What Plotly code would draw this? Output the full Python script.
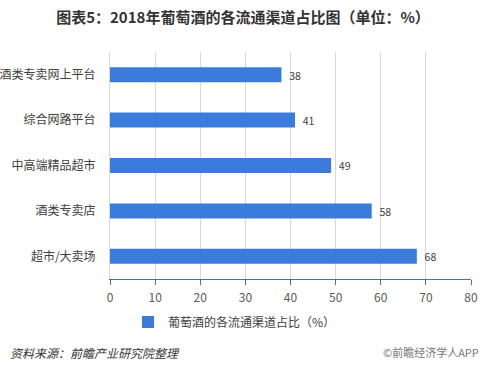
import plotly.graph_objects as go

categories = ["酒类专卖网上平台", "综合网路平台", "中高端精品超市", "酒类专卖店", "超市/大卖场"]
values = [38, 41, 49, 58, 68]
series_name = "葡萄酒的各流通渠道占比（%）"
x_ticks = [0, 10, 20, 30, 40, 50, 60, 70, 80]

FONT = "Microsoft YaHei, Noto Sans CJK SC, sans-serif"
W, H = 489, 371
L, R, T, B = 110, 18, 52, 92
PW, PH = W - L - R, H - T - B

fig = go.Figure()
fig.add_trace(go.Bar(
    y=categories, x=values, orientation="h", name=series_name,
    marker=dict(color="#3A7BDB", line=dict(width=0)),
    width=0.33,
    texttemplate="  %{x}", textposition="outside",
    textfont=dict(size=12, color="#404040", family=FONT),
    cliponaxis=False, showlegend=True,
))

fig.update_layout(
    width=W, height=H,
    margin=dict(l=L, r=R, t=T, b=B, autoexpand=False),
    paper_bgcolor="white", plot_bgcolor="white",
    font=dict(family=FONT, size=12, color="#595959"),
    title=dict(text="<b>图表5：2018年葡萄酒的各流通渠道占比图（单位：%）</b>",
               x=243 / W, xanchor="center", xref="container",
               y=1 - 18 / H, yanchor="middle",
               font=dict(size=15, color="#333333", family=FONT)),
    xaxis=dict(range=[0, 80], tickvals=x_ticks, showgrid=True, gridcolor="#D9D9D9",
               gridwidth=1, zeroline=False, showline=True, linecolor="#4A6FB0",
               linewidth=1, ticks="outside", ticklen=5, tickcolor="#4A6FB0",
               ticklabelstandoff=3, automargin=False,
               tickfont=dict(size=12, color="#595959")),
    yaxis=dict(autorange="reversed", showgrid=False, zeroline=False, showline=True,
               linecolor="#D9D9D9", ticks="", ticklabelstandoff=11, automargin=False,
               tickfont=dict(size=12, color="#404040")),
    legend=dict(orientation="h", x=128 / W, xanchor="left", xref="container",
                y=(279 - 322) / PH, yanchor="middle", font=dict(size=12, color="#404040"),
                itemwidth=30, bgcolor="rgba(0,0,0,0)"),
)

fig.add_annotation(text="<i>资料来源：前瞻产业研究院整理</i>", xref="paper", yref="paper",
                   x=-(L - 8) / PW, xanchor="left", y=(279 - 352) / PH, yanchor="middle",
                   showarrow=False, font=dict(size=12, color="#333333", family=FONT))
fig.add_annotation(text="©前瞻经济学人APP", xref="paper", yref="paper",
                   x=(481 - L) / PW, xanchor="right", y=(279 - 352) / PH, yanchor="middle",
                   showarrow=False, font=dict(size=11, color="#777777", family=FONT))

fig.write_html("out.html", config={"displayModeBar": False},
               post_script="document.body.style.margin='0';")
